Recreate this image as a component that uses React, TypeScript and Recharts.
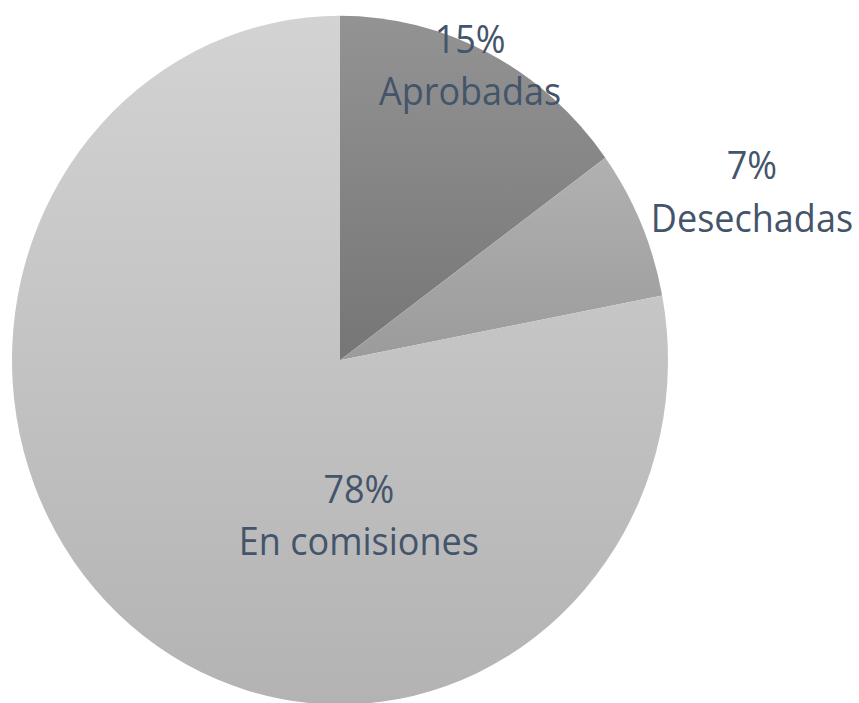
import React from "react";
import { PieChart, Pie, Cell } from "recharts";

const categories = ["Aprobadas", "Desechadas", "En comisiones"];
const values = [15, 7, 78];

const gradients = [
  { id: "gA", top: "#939393", bottom: "#767676" },
  { id: "gD", top: "#b1b1b1", bottom: "#9b9b9b" },
  { id: "gE", top: "#d3d3d3", bottom: "#b3b3b3" },
];

// label placement (radius factor, angle in degrees) per slice
const labelPlacement = [
  { r: 0.908, a: 64.1 },
  { r: 1.334, a: 19.7 },
  { r: 0.494, a: -83.3 },
];

const data = categories.map((name, i) => ({ name, value: values[i] }));

const TEXT_COLOR = "#44546a";
const FONT = "'Open Sans', sans-serif";

const renderLabel = (props: any) => {
  const { cx, cy, outerRadius, index, name, value } = props;
  const p = labelPlacement[index];
  const rad = (p.a * Math.PI) / 180;
  const x = cx + outerRadius * p.r * Math.cos(rad);
  const y = cy - outerRadius * p.r * Math.sin(rad);
  return (
    <text
      x={x}
      y={y}
      textAnchor="middle"
      fill={TEXT_COLOR}
      fontFamily={FONT}
      fontSize={36}
    >
      <tspan x={x} y={y - 25}>{`${value}%`}</tspan>
      <tspan x={x} y={y + 25}>{name}</tspan>
    </text>
  );
};

export default function App() {
  return (
    <div
      style={{
        position: "absolute",
        left: 0,
        top: 0,
        width: 859,
        height: 703,
        overflow: "hidden",
        background: "#ffffff",
      }}
    >
      <svg width={0} height={0} style={{ position: "absolute" }}>
        <defs>
          {gradients.map((g) => (
            <linearGradient key={g.id} id={g.id} x1="0" y1="0" x2="0" y2="1">
              <stop offset="0%" stopColor={g.top} />
              <stop offset="100%" stopColor={g.bottom} />
            </linearGradient>
          ))}
        </defs>
      </svg>
      <div style={{ transform: "scaleY(1.05)", transformOrigin: "0 0" }}>
        <PieChart width={859} height={670} margin={{ top: 0, right: 0, bottom: 0, left: 0 }}>
          <Pie
            data={data}
            dataKey="value"
            nameKey="name"
            cx={340}
            cy={343}
            outerRadius={328}
            startAngle={90}
            endAngle={-270}
            stroke="none"
            label={renderLabel}
            labelLine={false}
            isAnimationActive={false}
          >
            {data.map((d, i) => (
              <Cell key={d.name} fill={`url(#${gradients[i].id})`} />
            ))}
          </Pie>
        </PieChart>
      </div>
    </div>
  );
}
